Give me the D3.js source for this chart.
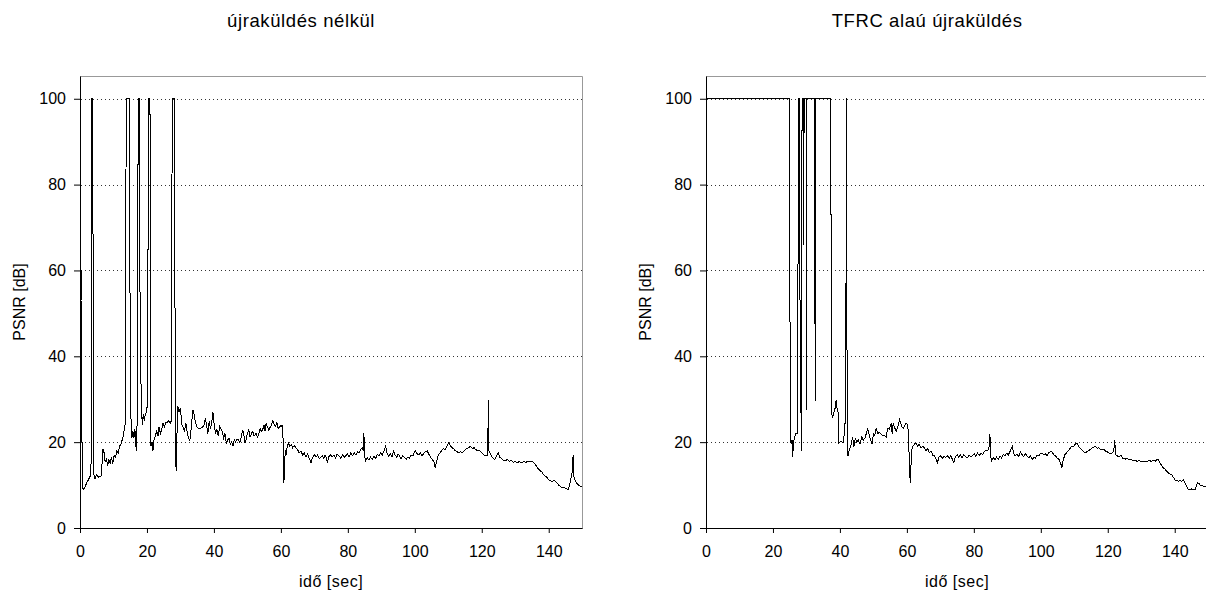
<!DOCTYPE html>
<html lang="hu">
<head>
<meta charset="utf-8">
<title>PSNR - újraküldés</title>
<script src="https://cdn.jsdelivr.net/npm/d3@7"></script>
<style>
  body { margin: 0; background: #fff; }
  svg text { font-family: "Liberation Sans", Arial, sans-serif; fill: #000; }
</style>
</head>
<body>
<div id="bod"></div>
<script>
const titles = ["újraküldés nélkül", "TFRC alaú újraküldés"];
const xLabel = "idő [sec]";
const yLabel = "PSNR [dB]";
const xTicks = [0, 20, 40, 60, 80, 100, 120, 140];
const yTicks = [0, 20, 40, 60, 80, 100];
const gridLevels = [20, 40, 60, 80, 100];

// [time sec, PSNR dB]
const noRetx = [
  [0,100],[0.25,100],[0.3,53],[0.45,60],[0.6,20],[0.8,9.3],[1.2,9],[1.6,9.8],[2.0,10.5],[2.5,11.2],
  [3.0,12],[3.3,15],[3.5,100],[3.7,100],[3.8,77],[3.9,67],[4.0,20],[4.1,12.5],[4.5,11.5],[5.0,12.5],
  [5.5,11.8],[6.0,12],[6.4,12.2],[6.8,18.5],[7.2,17.5],[7.5,15.5],[7.9,16],[8.3,14.5],[8.6,16],[9.0,15],
  [9.4,16.5],[9.8,15],[10.2,17],[10.6,16.5],[11.0,18],[11.4,17.5],[11.8,19],[12.2,19.5],[12.6,20.5],[13.0,21.5],
  [13.3,23.5],[13.6,24.5],[13.7,70],[13.8,100],[14.8,100],[14.9,70],[15.0,30],[15.2,26],[15.5,21],[15.8,22.5],
  [16.1,21],[16.4,23],[16.7,19],[17.0,18],[17.2,56],[17.4,100],[17.8,100],[17.9,57],[18.1,40],[18.3,29.5],
  [18.6,24],[18.9,26.5],[19.2,25],[19.5,26.5],[19.8,27],[20.1,28.5],[20.3,63],[20.6,100],[20.9,100],[21.0,63],
  [21.2,19],[21.5,20],[21.8,18],[22.1,20.5],[22.5,21.5],[22.9,22.5],[23.3,21.5],[23.6,23.5],[24.0,22],[24.4,23],
  [24.8,24.5],[25.2,23.5],[25.6,24.5],[26.0,24.5],[26.5,25],[27.0,24.5],[27.3,25],[27.4,70],[27.6,100],[28.2,100],
  [28.3,70],[28.5,22],[28.7,13.2],[28.9,20],[29.2,28.5],[29.6,27],[30.0,28],[30.4,24],[30.8,23.5],[31.2,22.5],
  [31.6,24.5],[32.0,22.5],[32.4,21],[32.8,20.2],[33.3,24],[33.7,27.5],[34.1,26.5],[34.5,24.5],[35.0,23.5],[35.5,23.2],
  [36.0,23.2],[36.5,23.5],[37.0,23.8],[37.4,25.5],[37.8,24],[38.2,22],[38.6,25],[39.0,23],[39.4,25],[39.7,27],
  [40.1,24],[40.5,22],[40.9,23],[41.3,21.5],[41.7,23.6],[42.1,23],[42.5,22.5],[42.9,21],[43.3,22],[43.7,19.8],
  [44.1,20.5],[44.5,21],[44.9,19.5],[45.3,20],[45.7,19.2],[46.1,20.5],[46.5,20],[46.9,20.7],[47.3,20.5],[47.7,19.9],
  [48.1,21],[48.6,22.8],[49.0,21.5],[49.3,19.8],[49.6,20.5],[50.0,22],[50.4,23],[50.8,21.2],[51.2,22],[51.6,22.5],
  [52.0,21.5],[52.6,22],[53.0,21.2],[53.4,21.8],[53.8,23.2],[54.2,22.5],[54.6,23],[55.0,24],[55.3,22.5],[55.6,24.4],
  [56.0,23.5],[56.4,22.8],[56.8,23.5],[57.2,24],[57.6,25.1],[58.0,24],[58.4,23.6],[58.8,24.5],[59.2,23.2],[59.6,23.5],
  [60.0,24],[60.4,23.6],[60.6,24],[60.7,16],[60.9,10.5],[61.1,14],[61.3,18.2],[61.6,17],[61.9,19],[62.3,19.8],
  [62.7,19],[63.1,19.5],[63.5,18.7],[64.0,19.2],[64.5,18.7],[65.0,18.2],[65.5,17.5],[66.0,17.9],[66.5,17],[67.0,17.5],
  [67.5,16.5],[68.0,17.2],[68.5,16.2],[69.0,15.2],[69.5,16.5],[70.0,17.1],[70.5,16.5],[71.0,17],[71.5,16.2],[72.0,16.5],
  [72.4,16.8],[72.8,16.2],[73.2,17],[73.6,16.4],[73.9,15.2],[74.3,16.6],[74.8,17.1],[75.3,16.5],[75.8,17],[76.3,16.3],
  [76.8,17.2],[77.4,16.8],[77.9,16.2],[78.4,17.1],[78.9,16.5],[79.4,16.8],[79.9,17.3],[80.4,16.6],[80.9,17.5],[81.4,16.9],
  [81.9,17.5],[82.4,17],[82.9,17.8],[83.3,17.5],[83.8,18.2],[84.3,18.7],[84.6,18],[84.8,22.1],[85.0,17],[85.3,15.6],
  [85.8,16.4],[86.3,15.8],[86.8,16.5],[87.3,16],[87.8,16.8],[88.3,16.2],[88.8,17.2],[89.3,16.8],[89.8,17.5],[90.3,17],
  [90.8,18],[91.3,19],[91.7,17.5],[92.2,16.8],[92.7,17.2],[93.2,16.5],[93.7,18],[94.1,17],[94.6,16.5],[95.0,17.3],
  [95.4,16.8],[95.9,16.2],[96.4,16.8],[96.9,16.4],[97.4,16],[97.9,16.5],[98.4,16.2],[98.9,17],[99.4,16.8],[99.8,17.5],
  [100.2,18],[100.7,17.3],[101.2,17],[101.7,17.5],[102.2,16.8],[102.7,17.4],[103.2,17.8],[103.7,18],[104.2,17.2],[104.7,16.5],
  [105.2,16],[105.7,15.5],[106.1,14],[106.5,15.5],[107.0,17],[107.5,17.5],[108.0,18],[108.5,18.5],[109.0,18.2],[109.5,19],
  [110.1,19.8],[110.6,19.2],[111.1,18.7],[111.6,18.5],[112.1,18],[112.6,17.8],[113.1,17.5],[113.6,17.8],[114.2,17.5],[114.7,18],
  [115.2,18.3],[115.7,18.6],[116.2,18.8],[116.7,19],[117.2,18.5],[117.7,18.7],[118.2,18.3],[118.7,18],[119.2,18.2],[119.6,17.8],
  [120.0,17.5],[120.5,17.2],[121.0,16.8],[121.5,16.8],[121.8,17],[121.9,26],[122.0,29.9],[122.1,18],[122.4,17.5],[122.9,16.8],
  [123.4,16.2],[123.9,16],[124.4,16.8],[124.9,17.5],[125.4,16.5],[125.9,16.2],[126.4,15.8],[127.0,15.6],[127.6,16],[128.2,15.5],
  [128.8,15.8],[129.4,15.3],[130.0,15.5],[130.6,15.2],[131.2,15.5],[132.0,15.2],[132.6,15.5],[133.2,15.3],[133.8,15.6],[134.4,15.4],
  [134.9,15.6],[135.5,15.2],[136.0,14.8],[136.5,14.2],[137.0,13.7],[137.5,13.3],[138.0,13],[138.5,12.4],[139.0,12],[139.5,11.8],
  [140.0,11.2],[140.5,11],[140.9,10.9],[141.5,11],[142.0,10.9],[142.5,10.5],[143.0,10],[143.8,9.4],[144.3,9.3],[144.8,9.4],
  [145.3,9.1],[145.8,9.0],[146.2,9.8],[146.6,11.4],[147.0,13],[147.3,17.1],[147.5,12.1],[148.0,10.8],[148.6,10.2],[149.3,9.8],
  [150,9.7]
];

const tfrcRetx = [
  [0,100],[25.0,100],[25.05,59],[25.2,20.5],[25.5,19.5],[25.7,20.5],[25.9,16.5],[26.1,19.5],[26.4,21],[26.8,22],
  [27.2,22],[27.4,22],[27.5,68.7],[27.6,100],[27.9,100],[28.0,62],[28.2,40],[28.5,18],[28.6,60],[28.7,100],
  [29.0,100],[29.2,66],[29.3,100],[30.0,100],[30.05,27.5],[30.1,100],[32.4,100],[32.5,72.5],[32.6,29.5],[32.7,100],
  [37.3,100],[37.4,27.5],[37.8,25.6],[38.2,27],[38.6,28],[38.9,29.9],[39.2,27.5],[39.5,27],[39.7,19.8],[40.2,20.2],
  [40.7,20],[41.1,20],[41.5,24.4],[41.8,24.4],[41.85,100],[41.95,100],[42.0,57.8],[42.2,30],[42.4,16.7],[42.8,18.2],
  [43.2,19],[43.8,21.2],[44.2,19],[44.6,21],[45.0,20],[45.5,20.5],[46.0,19.5],[46.5,21.2],[47.0,20.5],[47.5,21],
  [48.0,22.3],[48.3,23.2],[48.8,21.5],[49.2,20.5],[49.6,19.5],[50.0,22],[50.4,21.5],[50.8,23.2],[51.3,22],[51.8,22.3],
  [52.3,21.8],[52.8,21.5],[53.3,21.6],[53.8,21.2],[54.3,23.2],[54.8,23],[55.3,24.4],[55.6,22],[55.9,24.4],[56.3,23.5],
  [56.8,22.5],[57.3,23.5],[57.8,25.2],[58.2,24.4],[58.6,23.5],[59.0,23.2],[59.4,24],[59.8,24.4],[60.2,24],[60.5,22],
  [60.7,15.9],[61.0,10.5],[61.2,14],[61.4,18.2],[61.8,19],[62.2,19.5],[62.7,19.8],[63.2,19],[63.7,19.5],[64.2,18.7],
  [64.7,19],[65.2,18.7],[65.7,18],[66.2,18.5],[66.7,17.5],[67.2,18],[67.7,17],[68.2,16.8],[68.7,16],[69.1,15.2],
  [69.6,16.5],[70.1,16.8],[70.6,16.2],[71.1,16.8],[71.6,16.4],[72.1,16.9],[72.6,16.2],[73.1,16.8],[73.6,16],[74.0,15.2],
  [74.5,16.6],[75.0,17.1],[75.5,16.5],[76.0,17],[76.5,16.4],[77.0,17.1],[77.6,16.6],[78.1,16.4],[78.6,17],[79.1,16.6],
  [79.6,16.8],[80.1,17.3],[80.6,16.7],[81.1,17.4],[81.6,16.9],[82.1,17.4],[82.6,17.1],[83.1,17.8],[83.6,18.2],[84.1,18],
  [84.5,18.5],[84.8,22],[85.0,17],[85.3,15.6],[85.8,16.4],[86.3,15.9],[86.8,16.5],[87.3,16],[87.8,16.8],[88.3,16.3],
  [88.8,17.2],[89.3,16.8],[89.8,17.4],[90.3,17],[90.8,17.8],[91.5,19],[91.9,17.3],[92.4,16.8],[92.9,17.3],[93.4,16.6],
  [93.9,17.8],[94.4,17.1],[94.9,16.6],[95.4,17.3],[95.9,16.8],[96.4,16.4],[96.9,16.8],[97.4,16],[97.9,16.4],[98.4,16.3],
  [98.9,16.9],[99.4,16.8],[99.9,17.3],[100.4,17.5],[100.9,17.1],[101.4,17.3],[101.9,16.8],[102.4,17.5],[102.9,17.8],[103.4,17.7],
  [103.9,17],[104.4,16.8],[104.9,16.3],[105.4,16],[105.9,15.2],[106.3,14],[106.7,15.8],[107.2,17.1],[107.7,17.5],[108.2,18],
  [108.7,18.5],[109.2,19],[109.8,19],[110.3,19.5],[110.8,19.8],[111.3,19],[111.8,18.6],[112.3,18.2],[112.8,17.8],[113.3,17.5],
  [113.8,17.8],[114.3,18],[114.8,18.3],[115.3,18.6],[115.8,18.8],[116.3,19],[116.8,18.6],[117.3,18.7],[117.8,18.3],[118.3,18.2],
  [118.8,18.4],[119.3,17.9],[119.8,17.8],[120.3,17.5],[120.8,17.3],[121.3,17.5],[121.8,17.8],[122.0,20.5],[122.2,19],[122.4,17.1],
  [122.9,16.8],[123.4,16.5],[123.9,17],[124.4,16.3],[124.9,16.2],[125.2,16],[125.8,16.3],[126.4,15.9],[127.0,16],[127.6,15.6],
  [128.2,15.8],[128.8,15.5],[129.4,15.8],[130.0,15.4],[130.6,15.6],[131.2,15.6],[131.8,15.5],[132.4,15.8],[133.0,15.5],[133.6,15.8],
  [134.2,15.6],[134.7,16],[135.1,16],[135.6,15.2],[136.1,14.5],[136.6,14],[137.1,13.7],[137.6,13.2],[138.1,12.8],[138.6,12.6],
  [139.1,12.4],[139.6,11.8],[140.1,11.2],[140.6,11],[141.1,10.9],[141.6,11],[142.1,10.9],[142.6,11.2],[143.1,10.5],[143.6,9.6],
  [144.1,9.0],[144.6,9.0],[145.1,9.1],[145.6,9.0],[146.1,9.0],[146.5,10],[146.8,10.6],[147.2,10.4],[147.6,9.9],[148.0,9.8],
  [148.5,9.8],[149.3,9.6],[150,9.5]
];

const w = 1206;
const h = 594;
const plotW = 502.2;
const plotTop = 76;
const plotBottom = 528;

const drawPanel = (svg, data, title, x0) => {
  let xScale = d3.scaleLinear()
    .domain([0, 150])
    .range([x0, x0 + plotW]);

  let yScale = d3.scaleLinear()
    .domain([0, 105.3])
    .range([plotBottom, plotTop]);

  let g = svg.append("g");

  // dotted grid
  g.append("g")
    .selectAll("line")
    .data(gridLevels)
    .enter()
    .append("line")
    .attr("x1", x0 + 1)
    .attr("x2", x0 + plotW)
    .attr("y1", (d) => Math.round(yScale(d)) + 0.5)
    .attr("y2", (d) => Math.round(yScale(d)) + 0.5)
    .attr("stroke", "#333")
    .attr("stroke-dasharray", "1,3")

  // grey frame on top and right
  g.append("path")
    .attr("d", "M" + x0 + "," + (plotTop + 0.5) + "H" + (Math.round(x0 + plotW) + 0.5) + "V" + plotBottom)
    .attr("fill", "none")
    .attr("stroke", "#999")

  let line = d3.line()
    .x((d) => xScale(d[0]))
    .y((d) => yScale(d[1]))

  g.append("path")
    .datum(data)
    .attr("d", line)
    .attr("fill", "none")
    .attr("stroke", "#000")
    .attr("stroke-width", 1)
    .attr("shape-rendering", "crispEdges")

  let xAxis = d3.axisBottom(xScale)
    .tickValues(xTicks)
    .tickSize(5)
    .tickSizeOuter(0)
    .tickPadding(13)

  let yAxis = d3.axisLeft(yScale)
    .tickValues(yTicks)
    .tickSize(6)
    .tickSizeOuter(0)
    .tickPadding(8)

  g.append("g")
    .attr("transform", "translate(0," + plotBottom + ")")
    .call(xAxis)

  g.append("g")
    .attr("transform", "translate(" + x0 + ",0)")
    .call(yAxis)

  svg.selectAll(".tick text").attr("font-size", 16).attr("font-family", null)
  svg.selectAll(".domain, .tick line").attr("stroke", "#000")

  g.append("text")
    .attr("x", x0 + plotW / 2 - 30)
    .attr("y", 26.5)
    .attr("text-anchor", "middle")
    .attr("font-size", 18.5)
    .attr("letter-spacing", "0.6px")
    .text(title)

  g.append("text")
    .attr("x", x0 + plotW / 2)
    .attr("y", 587)
    .attr("text-anchor", "middle")
    .attr("font-size", 16)
    .attr("letter-spacing", "0.5px")
    .text(xLabel)

  g.append("text")
    .attr("transform", "translate(" + (x0 - 61) + ",302) rotate(-90)")
    .attr("dy", "0.35em")
    .attr("text-anchor", "middle")
    .attr("font-size", 16)
    .text(yLabel)
}

let svg = d3.select("#bod")
  .append("svg")
  .attr("width", w)
  .attr("height", h)

drawPanel(svg, noRetx, titles[0], 80)
drawPanel(svg, tfrcRetx, titles[1], 706)
</script>
</body>
</html>
